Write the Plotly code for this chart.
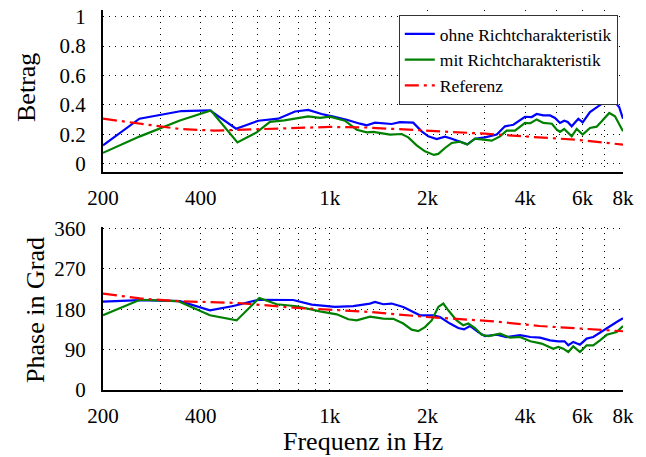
import plotly.graph_objects as go
import math

# ---------------- data ----------------
mag_ohne_f = [200, 259, 349, 427, 514, 602, 693, 781, 858, 943, 1025, 1127, 1238, 1299, 1377, 1550, 1644, 1806, 1918, 2010, 2134, 2263, 2374, 2518, 2651, 2800, 3006, 3266, 3463, 3675, 3991, 4186, 4337, 4546, 4767, 4938, 5117, 5274, 5404, 5560, 5826, 6010, 6329, 6637, 6878, 7127, 7332, 7558, 7792, 8000]
mag_ohne_v = [0.126, 0.307, 0.359, 0.363, 0.239, 0.293, 0.307, 0.356, 0.366, 0.339, 0.321, 0.300, 0.273, 0.262, 0.280, 0.271, 0.284, 0.280, 0.221, 0.187, 0.169, 0.185, 0.171, 0.149, 0.133, 0.171, 0.180, 0.199, 0.255, 0.266, 0.320, 0.318, 0.339, 0.329, 0.329, 0.312, 0.278, 0.293, 0.285, 0.255, 0.307, 0.282, 0.352, 0.384, 0.408, 0.413, 0.438, 0.420, 0.384, 0.307]

mag_mit_f = [200, 260, 345, 430, 519, 595, 654, 724, 858, 932, 1001, 1113, 1210, 1299, 1360, 1532, 1664, 1744, 1851, 1963, 2092, 2158, 2263, 2374, 2518, 2651, 2800, 3006, 3152, 3344, 3505, 3719, 3991, 4148, 4337, 4546, 4830, 5002, 5117, 5270, 5560, 5760, 6010, 6329, 6637, 6878, 7258, 7558, 8000]
mag_mit_v = [0.075, 0.187, 0.295, 0.363, 0.146, 0.214, 0.285, 0.295, 0.323, 0.312, 0.321, 0.293, 0.232, 0.214, 0.217, 0.199, 0.203, 0.180, 0.126, 0.085, 0.061, 0.068, 0.108, 0.142, 0.151, 0.131, 0.171, 0.165, 0.158, 0.187, 0.226, 0.226, 0.278, 0.276, 0.302, 0.278, 0.273, 0.232, 0.217, 0.237, 0.187, 0.237, 0.199, 0.244, 0.253, 0.289, 0.346, 0.323, 0.221]

mag_ref_f = [200, 260, 345, 440, 600, 800, 1000, 1300, 2000, 3000, 4400, 5700, 8000]
mag_ref_v = [0.307, 0.271, 0.237, 0.226, 0.235, 0.246, 0.251, 0.247, 0.228, 0.205, 0.180, 0.165, 0.131]

ph_ohne_f = [200, 260, 345, 427, 504, 602, 771, 879, 1037, 1180, 1329, 1377, 1460, 1550, 1683, 1806, 1895, 2082, 2184, 2345, 2486, 2590, 2701, 2865, 3006, 3266, 3505, 3854, 4148, 4441, 4767, 5054, 5286, 5428, 5622, 5896, 6182, 6477, 6795, 7206, 7649, 8000]
ph_ohne_v = [197, 200, 198, 177.5, 187, 201, 200.5, 190, 185, 187, 192.5, 196, 191, 192.5, 185, 174, 166.4, 166.4, 162.6, 148, 138, 135, 142.6, 129, 120, 123, 118, 122, 118, 116.7, 110.7, 108.5, 108.5, 99.6, 107, 101, 114.5, 118, 128, 140, 151.5, 160]

ph_mit_f = [200, 260, 340, 427, 516, 606, 686, 790, 932, 1050, 1140, 1210, 1329, 1460, 1568, 1683, 1786, 1872, 1963, 2059, 2158, 2236, 2316, 2458, 2576, 2670, 2800, 2936, 3076, 3344, 3588, 3854, 4148, 4493, 4877, 5054, 5236, 5428, 5622, 5896, 6182, 6477, 6795, 7127, 7649, 8000]
ph_mit_v = [166.4, 201, 198, 166.4, 155, 205, 191, 186.5, 175, 168.6, 157.5, 155, 163.5, 159, 158.5, 148, 134.5, 131, 140, 155, 185, 192.5, 177.5, 155, 144, 148, 138, 123, 120, 125.6, 116.7, 118, 108.5, 103.4, 92, 95.8, 92, 84.6, 97.3, 84.6, 99.6, 99.6, 110.7, 123, 129, 142.6]

ph_ref_f = [200, 260, 345, 516, 771, 1150, 1320, 1990, 3190, 4420, 5740, 8000]
ph_ref_v = [214.7, 204, 197.6, 194, 183.5, 177.5, 174, 162.6, 153, 142.6, 136.8, 130.8]

x_tickvals = [200, 300, 400, 500, 600, 700, 800, 900, 1000, 2000, 3000, 4000, 5000, 6000, 7000, 8000]
x_ticktext = ["200", "", "400", "", "", "", "", "", "1k", "2k", "", "4k", "", "6k", "", "8k"]
mag_ticks = [0, 0.2, 0.4, 0.6, 0.8, 1]
mag_ticktext = ["0", "0.2", "0.4", "0.6", "0.8", "1"]
ph_ticks = [0, 90, 180, 270, 360]

names = ["ohne Richtcharakteristik", "mit Richtcharakteristik", "Referenz"]
colors = ["#0000ff", "#008000", "#ff0000"]

# ---------------- figure ----------------
FONT = "Liberation Serif, Times New Roman, serif"
fig = go.Figure()
dashes = ["solid", "solid", "14px,5px,3px,5px"]

top = [(mag_ohne_f, mag_ohne_v), (mag_mit_f, mag_mit_v), (mag_ref_f, mag_ref_v)]
bot = [(ph_ohne_f, ph_ohne_v), (ph_mit_f, ph_mit_v), (ph_ref_f, ph_ref_v)]

for i, (f, v) in enumerate(top):
    fig.add_trace(go.Scatter(x=f, y=v, mode="lines", name=names[i],
                             line=dict(color=colors[i], width=2.2, dash=dashes[i]),
                             xaxis="x", yaxis="y"))
for i, (f, v) in enumerate(bot):
    fig.add_trace(go.Scatter(x=f, y=v, mode="lines", name=names[i], showlegend=False,
                             line=dict(color=colors[i], width=2.2, dash=dashes[i]),
                             xaxis="x2", yaxis="y2"))

grid = dict(showgrid=True, gridcolor="#000000", gridwidth=1, griddash="1px,5px")
axline = dict(showline=True, linecolor="#000000", linewidth=2, zeroline=False,
              automargin=False,
              tickfont=dict(family=FONT, size=21, color="#000"))

xcommon = dict(type="log", range=[math.log10(200), math.log10(8000)],
               tickmode="array", tickvals=x_tickvals, ticktext=x_ticktext,
               ticklabelstandoff=6, **grid, **axline)

title_font = dict(family=FONT, size=26, color="#000")

fig.update_layout(
    template="none",
    width=646, height=457,
    margin=dict(l=103, r=23, t=10, b=67, autoexpand=False),
    paper_bgcolor="white", plot_bgcolor="white",
    font=dict(family=FONT, color="#000"),
    xaxis=dict(domain=[0, 1], anchor="y", **xcommon),
    xaxis2=dict(domain=[0, 1], anchor="y2", **xcommon),
    yaxis=dict(domain=[0.5737, 1], anchor="x", range=[-0.055, 1.045],
               tickmode="array", tickvals=mag_ticks, ticktext=mag_ticktext,
               ticklabelstandoff=11, **grid, **axline),
    yaxis2=dict(domain=[0, 0.4289], anchor="x2", range=[0, 363],
                tickmode="array", tickvals=ph_ticks,
                ticklabelstandoff=11, **grid, **axline),
    legend=dict(x=0.990, y=0.987, xanchor="right", yanchor="top",
                bgcolor="white", bordercolor="#333333", borderwidth=1,
                font=dict(family=FONT, size=17.5, color="#000"),
                itemwidth=30, tracegroupgap=0),
    showlegend=True,
    annotations=[
        dict(text="Frequenz in Hz", xref="paper", yref="paper", x=0.5, y=-0.136,
             xanchor="center", yanchor="middle", showarrow=False, font=title_font,
             borderpad=0),
        dict(text="Betrag", xref="paper", yref="paper", x=-0.146, y=0.795,
             xanchor="center", yanchor="middle", textangle=-90, showarrow=False, font=title_font),
        dict(text="Phase in Grad", xref="paper", yref="paper", x=-0.131, y=0.2105,
             xanchor="center", yanchor="middle", textangle=-90, showarrow=False, font=title_font),
    ],
)

fig.write_html("out.html")
